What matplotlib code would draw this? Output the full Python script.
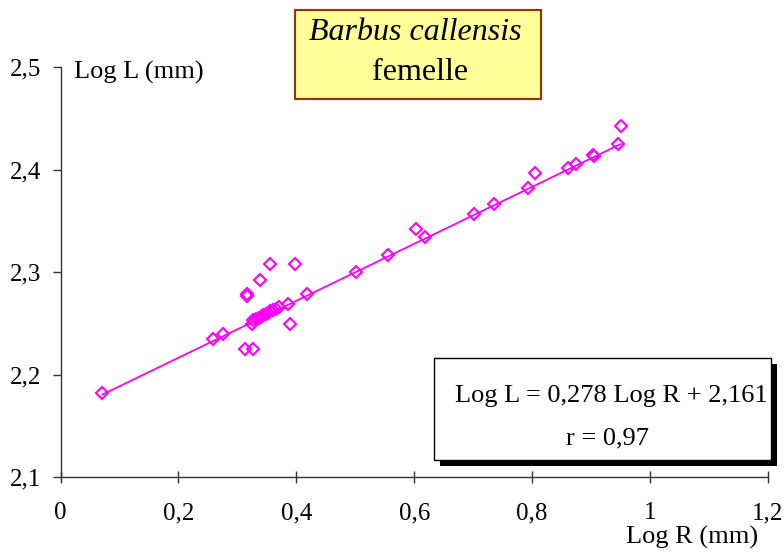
import matplotlib
matplotlib.use("Agg")
import matplotlib.pyplot as plt
from matplotlib.patches import Rectangle
import numpy as np

# values
log_r = [0.071, 0.258, 0.276, 0.313, 0.326, 0.316, 0.317, 0.339, 0.356, 0.397,
         0.418, 0.390, 0.386, 0.370, 0.366, 0.325, 0.327, 0.332, 0.336, 0.340,
         0.344, 0.348, 0.352, 0.355, 0.360, 0.5015, 0.556, 0.603, 0.618, 0.702,
         0.736, 0.793, 0.804, 0.861, 0.875, 0.903, 0.905, 0.946, 0.950]
log_l = [2.182, 2.2345, 2.240, 2.2248, 2.2248, 2.279, 2.277, 2.2923, 2.308, 2.308,
         2.279, 2.250, 2.269, 2.2658, 2.264, 2.250, 2.253, 2.254, 2.255, 2.256,
         2.258, 2.259, 2.260, 2.262, 2.263, 2.3006, 2.3166, 2.342, 2.334, 2.357,
         2.367, 2.3825, 2.3966, 2.402, 2.406, 2.414, 2.413, 2.4255, 2.443]
slope = 0.278
intercept = 2.161
x_ticks = [0, 0.2, 0.4, 0.6, 0.8, 1.0, 1.2]
x_tick_labels = ["0", "0,2", "0,4", "0,6", "0,8", "1", "1,2"]
y_ticks = [2.1, 2.2, 2.3, 2.4, 2.5]
y_tick_labels = ["2,1", "2,2", "2,3", "2,4", "2,5"]

plt.rcParams['font.family'] = ['Liberation Serif', 'DejaVu Serif']

W, H = 784, 559
fig = plt.figure(figsize=(W / 100, H / 100), dpi=100)


def fx(px):
    return px / W


def fy(py):
    return 1 - py / H


ax = fig.add_axes([fx(60.5), fy(477.3), fx(768) - fx(60.5), fy(67.3) - fy(477.3)])

mag = '#FF00FF'
xs = np.array([min(log_r), max(log_r)])
ax.plot(xs, slope * xs + intercept, color=mag, lw=1.3, zorder=2)
ax.plot(log_r, log_l, ls='none', marker='D', markersize=6, markerfacecolor='none',
        markeredgecolor=mag, markeredgewidth=1.5, zorder=3)

ax.set_xlim(0, 1.2)
ax.set_ylim(2.1, 2.5)
ax.set_xticks(x_ticks)
ax.set_xticklabels(x_tick_labels)
ax.set_yticks(y_ticks)
ax.set_yticklabels(y_tick_labels)
for s in ['top', 'right']:
    ax.spines[s].set_visible(False)
for s in ['left', 'bottom']:
    ax.spines[s].set_linewidth(1.0)
    ax.spines[s].set_color('#333333')
ax.tick_params(axis='x', direction='inout', length=8, width=1, color='#333333',
               labelsize=18, pad=14)
ax.tick_params(axis='y', direction='out', length=6, width=1, color='#333333',
               labelsize=18, pad=8)

fig.text(fx(74), fy(72), "Log L (mm)", fontsize=19, va='center', ha='left')
fig.text(fx(758), fy(537), "Log R (mm)", fontsize=19, va='center', ha='right')

# title box
fig.patches.append(Rectangle((fx(295), fy(99)), fx(541) - fx(295), fy(10) - fy(99),
                             transform=fig.transFigure, facecolor='#FFFF99',
                             edgecolor='#993300', lw=1.5, zorder=5))
fig.text(fx(415), fy(33), "Barbus callensis", style='italic', fontsize=23,
         ha='center', va='center', zorder=6)
fig.text(fx(420), fy(73), "femelle", fontsize=23, ha='center', va='center', zorder=6)

# equation box with shadow
bx0, by0, bx1, by1 = 434, 358, 771, 460
fig.patches.append(Rectangle((fx(bx0 + 6), fy(by1 + 6)), fx(bx1) - fx(bx0), fy(by0) - fy(by1),
                             transform=fig.transFigure, facecolor='black',
                             edgecolor='black', lw=0, zorder=5))
fig.patches.append(Rectangle((fx(bx0), fy(by1)), fx(bx1) - fx(bx0), fy(by0) - fy(by1),
                             transform=fig.transFigure, facecolor='white',
                             edgecolor='black', lw=1.0, zorder=6))
fig.text(fx(611), fy(396), "Log L = 0,278 Log R + 2,161", fontsize=19,
         ha='center', va='center', zorder=7)
fig.text(fx(607), fy(438), "r = 0,97", fontsize=19, ha='center', va='center', zorder=7)

fig.savefig("out.png", dpi=100)
